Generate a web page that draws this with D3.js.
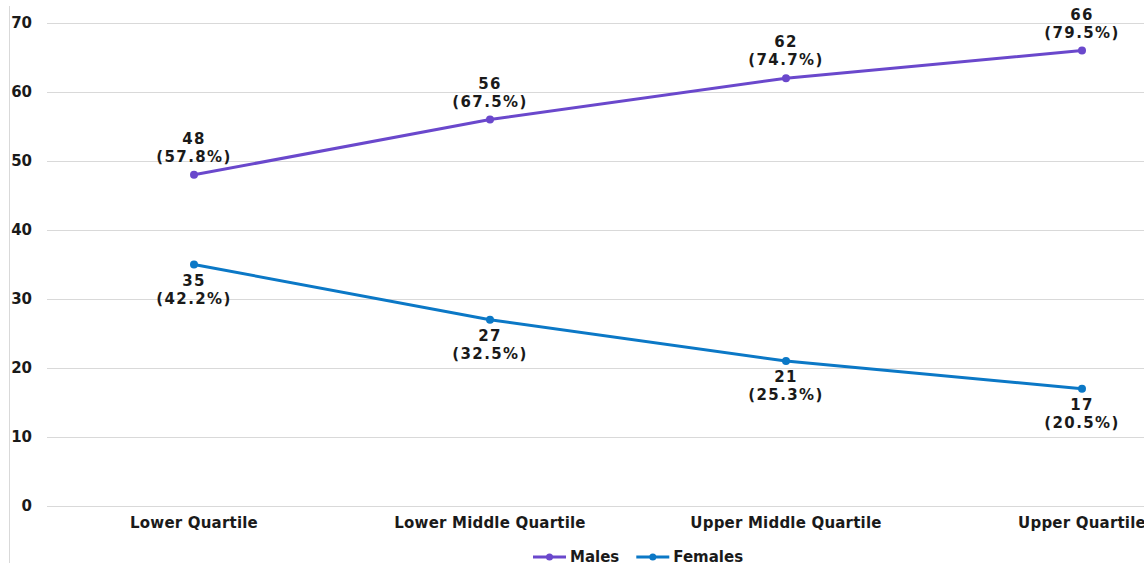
<!DOCTYPE html>
<html>
<head>
<meta charset="utf-8">
<script src="https://cdn.jsdelivr.net/npm/d3@7"></script>
<style>
  html, body { margin: 0; padding: 0; background: #fff; }
  svg { display: block; font-family: "DejaVu Sans", Verdana, sans-serif; font-weight: bold; }
</style>
</head>
<body>
<svg id="chart" width="1144" height="563"></svg>
<script>
// Headcount by pay quartile
const categories = ["Lower Quartile", "Lower Middle Quartile", "Upper Middle Quartile", "Upper Quartile"];
const males = [48, 56, 62, 66];
const malesPct = ["57.8%", "67.5%", "74.7%", "79.5%"];
const females = [35, 27, 21, 17];
const femalesPct = ["42.2%", "32.5%", "25.3%", "20.5%"];
const yTicks = [0, 10, 20, 30, 40, 50, 60, 70];

const svg = d3.select("#chart");
const W = 1144, H = 563;

const x = d3.scaleBand().domain(categories).range([46, 1230]);
const y = d3.scaleLinear().domain([0, 70]).range([506, 23]);
const cx = d => x(d) + x.bandwidth() / 2;

// left frame line
svg.append("line").attr("x1", 9.5).attr("x2", 9.5).attr("y1", 6).attr("y2", H)
  .attr("stroke", "#d9d9d9").attr("stroke-width", 1);

// gridlines
const yAxis = d3.axisLeft(y).tickValues(yTicks).tickSize(-(W - 47)).tickPadding(15);
const gy = svg.append("g").attr("transform", "translate(47,0)").call(yAxis);
gy.select(".domain").remove();
gy.selectAll(".tick line").attr("stroke", "#d9d9d9").attr("stroke-width", 1);
gy.selectAll(".tick text").attr("fill", "#1a1a1a").attr("font-size", 15)
  .attr("font-family", "DejaVu Sans").attr("font-weight", "bold");

// category axis
const xAxis = d3.axisBottom(x).tickSize(0).tickPadding(11);
const gx = svg.append("g").attr("transform", "translate(0,506)").call(xAxis);
gx.select(".domain").remove();
gx.selectAll(".tick text").attr("fill", "#1a1a1a").attr("font-size", 15)
  .attr("letter-spacing", 0.2)
  .attr("font-family", "DejaVu Sans").attr("font-weight", "bold");

const series = [
  { name: "Males", values: males, pct: malesPct, color: "#6a48cc", above: true },
  { name: "Females", values: females, pct: femalesPct, color: "#0b78c6", above: false }
];

const line = d3.line().x((d, i) => cx(categories[i])).y(d => y(d));

series.forEach(s => {
  const g = svg.append("g");
  g.append("path").datum(s.values).attr("d", line)
    .attr("fill", "none").attr("stroke", s.color).attr("stroke-width", 3);
  g.selectAll("circle").data(s.values).join("circle")
    .attr("cx", (d, i) => cx(categories[i])).attr("cy", d => y(d))
    .attr("r", 4).attr("fill", s.color);
  const lbl = g.selectAll("text").data(s.values).join("text")
    .attr("text-anchor", "middle").attr("font-size", 15).attr("fill", "#1a1a1a")
    .attr("letter-spacing", 1.4);
  lbl.append("tspan")
    .attr("x", (d, i) => cx(categories[i]))
    .attr("y", d => s.above ? y(d) - 31 : y(d) + 21)
    .text(d => d);
  lbl.append("tspan")
    .attr("x", (d, i) => cx(categories[i]))
    .attr("y", d => s.above ? y(d) - 13 : y(d) + 39)
    .text((d, i) => "(" + s.pct[i] + ")");
});

// legend
const legend = svg.append("g").attr("transform", "translate(533,557)");
let lx = 0;
series.forEach(s => {
  const item = legend.append("g").attr("transform", `translate(${lx},0)`);
  item.append("line").attr("x1", 0).attr("x2", 33).attr("y1", 0).attr("y2", 0)
    .attr("stroke", s.color).attr("stroke-width", 3);
  item.append("circle").attr("cx", 16.5).attr("cy", 0).attr("r", 3.5).attr("fill", s.color);
  const t = item.append("text").attr("x", 37).attr("y", 5).attr("font-size", 15)
    .attr("fill", "#1a1a1a").text(s.name);
  lx += 37 + t.node().getComputedTextLength() + 17;
});
</script>
</body>
</html>
